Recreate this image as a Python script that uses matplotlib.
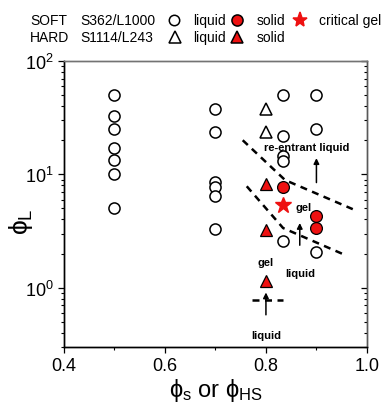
"""Phase diagram: phi_L vs phi_s / phi_HS for soft and hard colloid mixtures."""
import matplotlib
matplotlib.use("Agg")
import matplotlib.pyplot as plt
from matplotlib.lines import Line2D
from matplotlib.ticker import FixedLocator, NullFormatter

plt.rcParams["font.family"] = ["Liberation Sans", "DejaVu Sans"]
plt.rcParams["mathtext.fontset"] = "custom"
plt.rcParams["mathtext.rm"] = "Liberation Sans"
plt.rcParams["mathtext.it"] = "Liberation Sans"
plt.rcParams["mathtext.bf"] = "Liberation Sans:bold"

# soft S362/L1000
soft_liq_x = [0.5] * 7 + [0.7] * 6 + [0.833] * 5 + [0.9] * 3
soft_liq_y = [50, 33, 25, 17, 13.5, 10, 5,
              38, 23.5, 8.5, 7.8, 6.5, 3.3,
              50, 22, 14.4, 13, 2.6,
              50, 25, 2.05]
soft_sol_x = [0.833, 0.9, 0.9]
soft_sol_y = [7.7, 4.3, 3.35]
crit_x = [0.833]
crit_y = [5.35]

# hard S1114/L243
hard_liq_x = [0.8, 0.8]
hard_liq_y = [38, 23.5]
hard_sol_x = [0.8, 0.8, 0.8]
hard_sol_y = [8.3, 3.2, 1.15]

# boundaries
upper_x = [0.754, 0.838, 0.972]
upper_y = [20, 8.9, 4.93]
lower_x = [0.762, 0.834, 0.956]
lower_y = [7.85, 3.36, 1.95]
hard_x = [0.772, 0.834]
hard_y = [0.785, 0.785]

RED = "#ee1111"
MS = 8

fig = plt.figure(figsize=(3.82, 4.06), dpi=100)
ax = fig.add_axes([0.1675, 0.1429, 0.793, 0.7044])

ax.plot(soft_liq_x, soft_liq_y, "o", ms=MS, mfc="white", mec="black", mew=1.1, ls="none")
ax.plot(soft_sol_x, soft_sol_y, "o", ms=MS + 0.5, mfc=RED, mec="black", mew=0.9, ls="none")
ax.plot(crit_x, crit_y, "*", ms=12, mfc=RED, mec=RED, ls="none")
ax.plot(hard_liq_x, hard_liq_y, "^", ms=MS + 1, mfc="white", mec="black", mew=1.1, ls="none")
ax.plot(hard_sol_x, hard_sol_y, "^", ms=MS + 1, mfc=RED, mec="black", mew=0.9, ls="none")

for bx, by in [(upper_x, upper_y), (lower_x, lower_y), (hard_x, hard_y)]:
    ax.plot(bx, by, color="black", lw=1.8, dashes=(2.8, 2.2))

arrow = dict(arrowstyle="-|>", color="black", lw=1.1, mutation_scale=8)
ax.annotate("", xy=(0.9, 14.7), xytext=(0.9, 8.0), arrowprops=arrow)
ax.annotate("", xy=(0.867, 3.94), xytext=(0.867, 2.24), arrowprops=arrow)
ax.annotate("", xy=(0.8, 0.96), xytext=(0.8, 0.545), arrowprops=arrow)

lab = dict(fontsize=8, fontweight="bold", ha="center", va="center")
ax.text(0.88, 17.6, "re-entrant liquid", **lab)
ax.text(0.874, 5.2, "gel", **lab)
ax.text(0.8, 1.69, "gel", **lab)
ax.text(0.867, 1.36, "liquid", **lab)
ax.text(0.8, 0.38, "liquid", **lab)

ax.set_yscale("log")
ax.set_xlim(0.4, 1.0)
ax.set_ylim(0.3, 100)
ax.set_xticks([0.4, 0.6, 0.8, 1.0])
ax.set_xticklabels(["0.4", "0.6", "0.8", "1.0"])
ax.xaxis.set_minor_locator(FixedLocator([0.5, 0.7, 0.9]))
ax.tick_params(axis="both", which="major", direction="out", length=4, width=0.9,
               labelsize=13, top=False, right=False)
ax.tick_params(axis="both", which="minor", direction="out", length=2.5, width=0.8,
               top=False, right=False)
ax.tick_params(axis="x", pad=3)

twin = ax.twinx()
twin.set_yscale("log")
twin.set_ylim(ax.get_ylim())
twin.tick_params(axis="y", which="both", direction="in", labelright=False)
twin.tick_params(axis="y", which="major", length=4, width=0.9)
twin.tick_params(axis="y", which="minor", length=2.5, width=0.8)
twin.yaxis.set_minor_formatter(NullFormatter())

for a in (ax, twin):
    a.spines["left"].set_color("black")
    a.spines["bottom"].set_color("black")
    a.spines["top"].set_color("0.45")
    a.spines["right"].set_color("0.35")
    for s in a.spines.values():
        s.set_linewidth(1.0)

ax.set_xlabel(r"$\phi_{\rm s}$ or $\phi_{\rm HS}$", fontsize=17, labelpad=2)
ax.set_ylabel(r"$\phi_{\rm L}$", fontsize=19)
ax.yaxis.set_label_coords(-0.095, 0.44)

# header legend
row1, row2 = 1 - 21 / 406, 1 - 38 / 406
tx = dict(fontsize=10, va="center", ha="left")
fig.text(30 / 382, row1, "SOFT", **tx)
fig.text(80 / 382, row1, "S362/L1000", **tx)
fig.text(193 / 382, row1, "liquid", **tx)
fig.text(257 / 382, row1, "solid", **tx)
fig.text(319 / 382, row1, "critical gel", **tx)
fig.text(30 / 382, row2, "HARD", **tx)
fig.text(80 / 382, row2, "S1114/L243", **tx)
fig.text(193 / 382, row2, "liquid", **tx)
fig.text(257 / 382, row2, "solid", **tx)

legend_marks = [
    (174, row1, "o", "white", "black", 7.5),
    (237, row1, "o", RED, "black", 8),
    (300, row1, "*", RED, RED, 11),
    (175, row2, "^", "white", "black", 8.5),
    (237, row2, "^", RED, "black", 8.5),
]
for px, py, m, fc, ec, ms in legend_marks:
    fig.add_artist(Line2D([px / 382], [py], marker=m, ms=ms, mfc=fc, mec=ec,
                          mew=1.1, ls="none", transform=fig.transFigure))

fig.savefig("out.png", dpi=100)
